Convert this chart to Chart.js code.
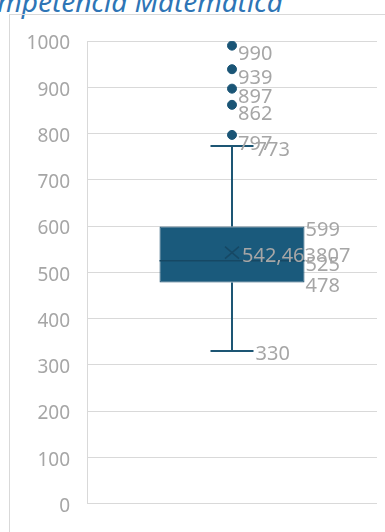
<!DOCTYPE html>
<html>
<head>
<meta charset="utf-8">
<script src="https://cdn.jsdelivr.net/npm/chart.js@4/dist/chart.umd.min.js"></script>
<style>
    html, body { margin: 0; padding: 0; background: #fff; overflow: hidden; }
    #wrap { position: relative; width: 385px; height: 532px; overflow: hidden; }
    #title {
        position: absolute; left: -35px; top: -13px;
        font-family: "Noto Sans", sans-serif; font-style: italic;
        font-size: 28px; line-height: 28px; color: #2e75b6; white-space: nowrap;
    }
    #frame {
        position: absolute; left: 9px; top: 14px; width: 420px; height: 600px;
        border: 1px solid #d9d9d9; box-sizing: border-box;
    }
    #chart { position: absolute; left: 0; top: 0; }
</style>
</head>
<body>
<div id="wrap">
    <div id="title">Competencia Matemática</div>
    <div id="frame"></div>
    <canvas id="chart" width="385" height="532"></canvas>
</div>
<script>
// --- DATA ---
const categories = ['Matemática'];
const boxQ1 = [478];
const boxMedian = [525];
const boxQ3 = [599];
const whiskerMin = [330];
const whiskerMax = [773];
const meanValues = [542.463807];
const outliers = [797, 862, 897, 939, 990];
const yTicks = [0, 100, 200, 300, 400, 500, 600, 700, 800, 900, 1000];

const BOX_COLOR = '#1a5a7c';
const LINE_COLOR = '#1d5674';
const LABEL_COLOR = '#a6a6a6';
const FONT = '20px "Noto Sans", sans-serif';

// --- BOX PLOT EXTRAS (whiskers, median, mean, labels) ---
const boxExtras = {
    id: 'boxExtras',
    afterDatasetsDraw(chart) {
        const ctx = chart.ctx;
        const y = chart.scales.y;
        const meta = chart.getDatasetMeta(0);

        categories.forEach((c, i) => {
            const bar = meta.data[i];
            const cx = bar.x;
            const half = bar.width / 2;
            const capHalf = 21.5;
            const yMin = y.getPixelForValue(whiskerMin[i]);
            const yMax = y.getPixelForValue(whiskerMax[i]);
            const yQ1 = y.getPixelForValue(boxQ1[i]);
            const yQ3 = y.getPixelForValue(boxQ3[i]);
            const yMed = y.getPixelForValue(boxMedian[i]);
            const yMean = y.getPixelForValue(meanValues[i]);

            ctx.save();
            ctx.strokeStyle = LINE_COLOR;
            ctx.lineWidth = 2;
            ctx.beginPath();
            // whiskers
            ctx.moveTo(cx, yQ3); ctx.lineTo(cx, yMax);
            ctx.moveTo(cx - capHalf, yMax); ctx.lineTo(cx + capHalf, yMax);
            ctx.moveTo(cx, yQ1); ctx.lineTo(cx, yMin);
            ctx.moveTo(cx - capHalf, yMin); ctx.lineTo(cx + capHalf, yMin);
            ctx.stroke();

            // median
            ctx.strokeStyle = '#164864';
            ctx.lineWidth = 1.5;
            ctx.beginPath();
            ctx.moveTo(cx - half, yMed); ctx.lineTo(cx + half, yMed);
            ctx.stroke();

            // mean marker (x)
            ctx.beginPath();
            ctx.moveTo(cx - 7, yMean - 6); ctx.lineTo(cx + 7, yMean + 6);
            ctx.moveTo(cx - 7, yMean + 6); ctx.lineTo(cx + 7, yMean - 6);
            ctx.stroke();

            // labels
            ctx.fillStyle = LABEL_COLOR;
            ctx.font = FONT;
            ctx.textAlign = 'left';
            ctx.textBaseline = 'middle';
            ctx.fillText(String(whiskerMax[i]), cx + capHalf + 2, yMax + 4);
            ctx.fillText(String(whiskerMin[i]), cx + capHalf + 2, yMin + 3);
            ctx.fillText(String(boxQ3[i]), cx + half + 1, yQ3 + 4);
            ctx.fillText(String(boxMedian[i]), cx + half + 1, yMed + 5);
            ctx.fillText(String(boxQ1[i]), cx + half + 1, yQ1 + 4);
            ctx.fillText(String(meanValues[i]).replace('.', ','), cx + 10, yMean + 4);
            outliers.forEach(v => {
                ctx.fillText(String(v), cx + 6, y.getPixelForValue(v) + 9);
            });
            ctx.restore();
        });
    }
};

const ctx = document.getElementById('chart').getContext('2d');
new Chart(ctx, {
    type: 'bar',
    data: {
        labels: categories,
        datasets: [
            {
                label: 'Caja',
                data: categories.map((c, i) => [boxQ1[i], boxQ3[i]]),
                backgroundColor: BOX_COLOR,
                borderColor: '#184e6c',
                borderWidth: 1,
                borderSkipped: false,
                barPercentage: 0.5,
                categoryPercentage: 1
            },
            {
                type: 'scatter',
                label: 'Atípicos',
                data: outliers.map(v => ({ x: categories[0], y: v })),
                backgroundColor: '#1a5576',
                borderColor: '#1a5576',
                pointRadius: 4.5,
                pointHoverRadius: 4.5
            }
        ]
    },
    options: {
        responsive: false,
        animation: false,
        events: [],
        layout: { padding: { top: 41, bottom: 24, right: 8, left: 0 } },
        plugins: { legend: { display: false }, tooltip: { enabled: false } },
        scales: {
            x: { display: false },
            y: {
                min: 0, max: 1000,
                afterFit: s => { s.width = 87; },
                afterBuildTicks: s => { s.ticks = yTicks.map(v => ({ value: v })); },
                grid: { color: '#d9d9d9', lineWidth: 1, drawTicks: false },
                border: { color: '#d9d9d9' },
                ticks: {
                    color: LABEL_COLOR,
                    font: { family: '"Noto Sans", sans-serif', size: 19 },
                    padding: 17,
                    labelOffset: 3,
                    callback: v => String(v)
                }
            }
        }
    },
    plugins: [boxExtras]
});
</script>
</body>
</html>
